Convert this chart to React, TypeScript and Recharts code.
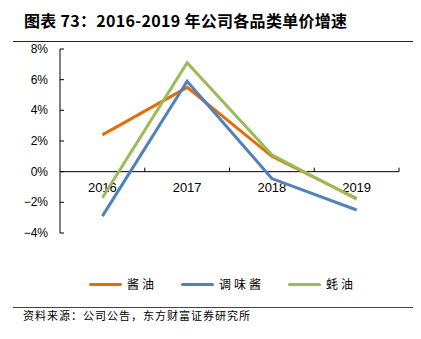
import { Line, LineChart, ReferenceLine, XAxis, YAxis } from 'recharts';

const years = ['2016', '2017', '2018', '2019'];
const soySauce = [2.4, 5.5, 1.0, -1.75];
const condimentSauce = [-2.9, 5.9, -0.45, -2.5];
const oysterSauce = [-1.7, 7.1, 1.1, -1.8];
const yTicks = [-4, -2, 0, 2, 4, 6, 8];

const series = [
  { key: 'soy', name: '酱油', color: '#E46C0A' },
  { key: 'condiment', name: '调味酱', color: '#4F81BD' },
  { key: 'oyster', name: '蚝油', color: '#9BBB59' },
];

const data = years.map((year, i) => ({
  year,
  soy: soySauce[i],
  condiment: condimentSauce[i],
  oyster: oysterSauce[i],
}));

const latin = '"Liberation Sans", Arial, sans-serif';
const cjk = '"Noto Sans CJK SC", sans-serif';

const fmt = (v: number) => (v < 0 ? `\u2212${Math.abs(v)}%` : `${v}%`);

function YTick(props: any) {
  const { x, y, payload } = props;
  return (
    <g>
      <line x1={x} y1={y} x2={x + 4} y2={y} stroke="#000" />
      <text x={x - 12} y={y} dy={4} textAnchor="end" fontSize={12} fontFamily={latin} fill="#000">
        {fmt(payload.value)}
      </text>
    </g>
  );
}

// category axis drawn along the zero line
function ZeroAxis(props: any) {
  const vb = props.viewBox;
  if (!vb) return null;
  const band = vb.width / years.length;
  return (
    <g>
      {years.map((y, i) => (
        <g key={y}>
          <line
            x1={vb.x + band * (i + 1)}
            x2={vb.x + band * (i + 1)}
            y1={vb.y - 4}
            y2={vb.y}
            stroke="#000"
          />
          <text
            x={vb.x + band * (i + 0.5)}
            y={vb.y + 20}
            textAnchor="middle"
            fontSize={13}
            fontFamily={latin}
            fill="#000"
          >
            {y}
          </text>
        </g>
      ))}
    </g>
  );
}

export default function App() {
  return (
    <div style={{ position: 'absolute', left: 0, top: 0, width: 421, height: 339, background: '#fff' }}>
      <div
        style={{
          position: 'absolute',
          left: 24,
          top: 12,
          fontSize: 16,
          lineHeight: '16px',
          fontWeight: 'bold',
          fontFamily: cjk,
          color: '#000',
          whiteSpace: 'nowrap',
          letterSpacing: 0.3,
        }}
      >
        图表 73：2016-2019 年公司各品类单价增速
      </div>
      <div style={{ position: 'absolute', left: 13, top: 41, width: 400, height: 1, background: '#222' }} />

      <div style={{ position: 'absolute', left: 0, top: 0 }}>
        <LineChart width={421} height={300} data={data} margin={{ top: 49, right: 22, bottom: 67, left: 10 }}>
          <XAxis dataKey="year" hide scale="band" />
          <YAxis
            width={50}
            domain={[-4, 8]}
            ticks={yTicks}
            interval={0}
            tickSize={0}
            tickMargin={0}
            tickLine={false}
            axisLine={{ stroke: '#000' }}
            tick={<YTick />}
          />
          <ReferenceLine y={0} stroke="#000" label={<ZeroAxis />} />
          {series.map((s) => (
            <Line
              key={s.key}
              dataKey={s.key}
              name={s.name}
              stroke={s.color}
              strokeWidth={3}
              dot={false}
              activeDot={false}
              isAnimationActive={false}
            />
          ))}
        </LineChart>
      </div>

      <div
        style={{
          position: 'absolute',
          left: 89,
          top: 276,
          display: 'flex',
          alignItems: 'center',
          gap: 24,
          fontFamily: cjk,
          fontSize: 12,
          lineHeight: '16px',
          letterSpacing: 3,
          color: '#000',
        }}
      >
        {series.map((s) => (
          <div key={s.key} style={{ display: 'flex', alignItems: 'center' }}>
            <div style={{ width: 33, height: 3, borderRadius: 2, background: s.color, marginRight: 5 }} />
            <span>{s.name}</span>
          </div>
        ))}
      </div>

      <div style={{ position: 'absolute', left: 13, top: 307, width: 400, height: 1, background: '#444' }} />
      <div
        style={{
          position: 'absolute',
          left: 23,
          top: 310,
          fontFamily: cjk,
          fontSize: 11,
          lineHeight: '11px',
          letterSpacing: 1,
          color: '#000',
          whiteSpace: 'nowrap',
        }}
      >
        资料来源：公司公告，东方财富证券研究所
      </div>
    </div>
  );
}
